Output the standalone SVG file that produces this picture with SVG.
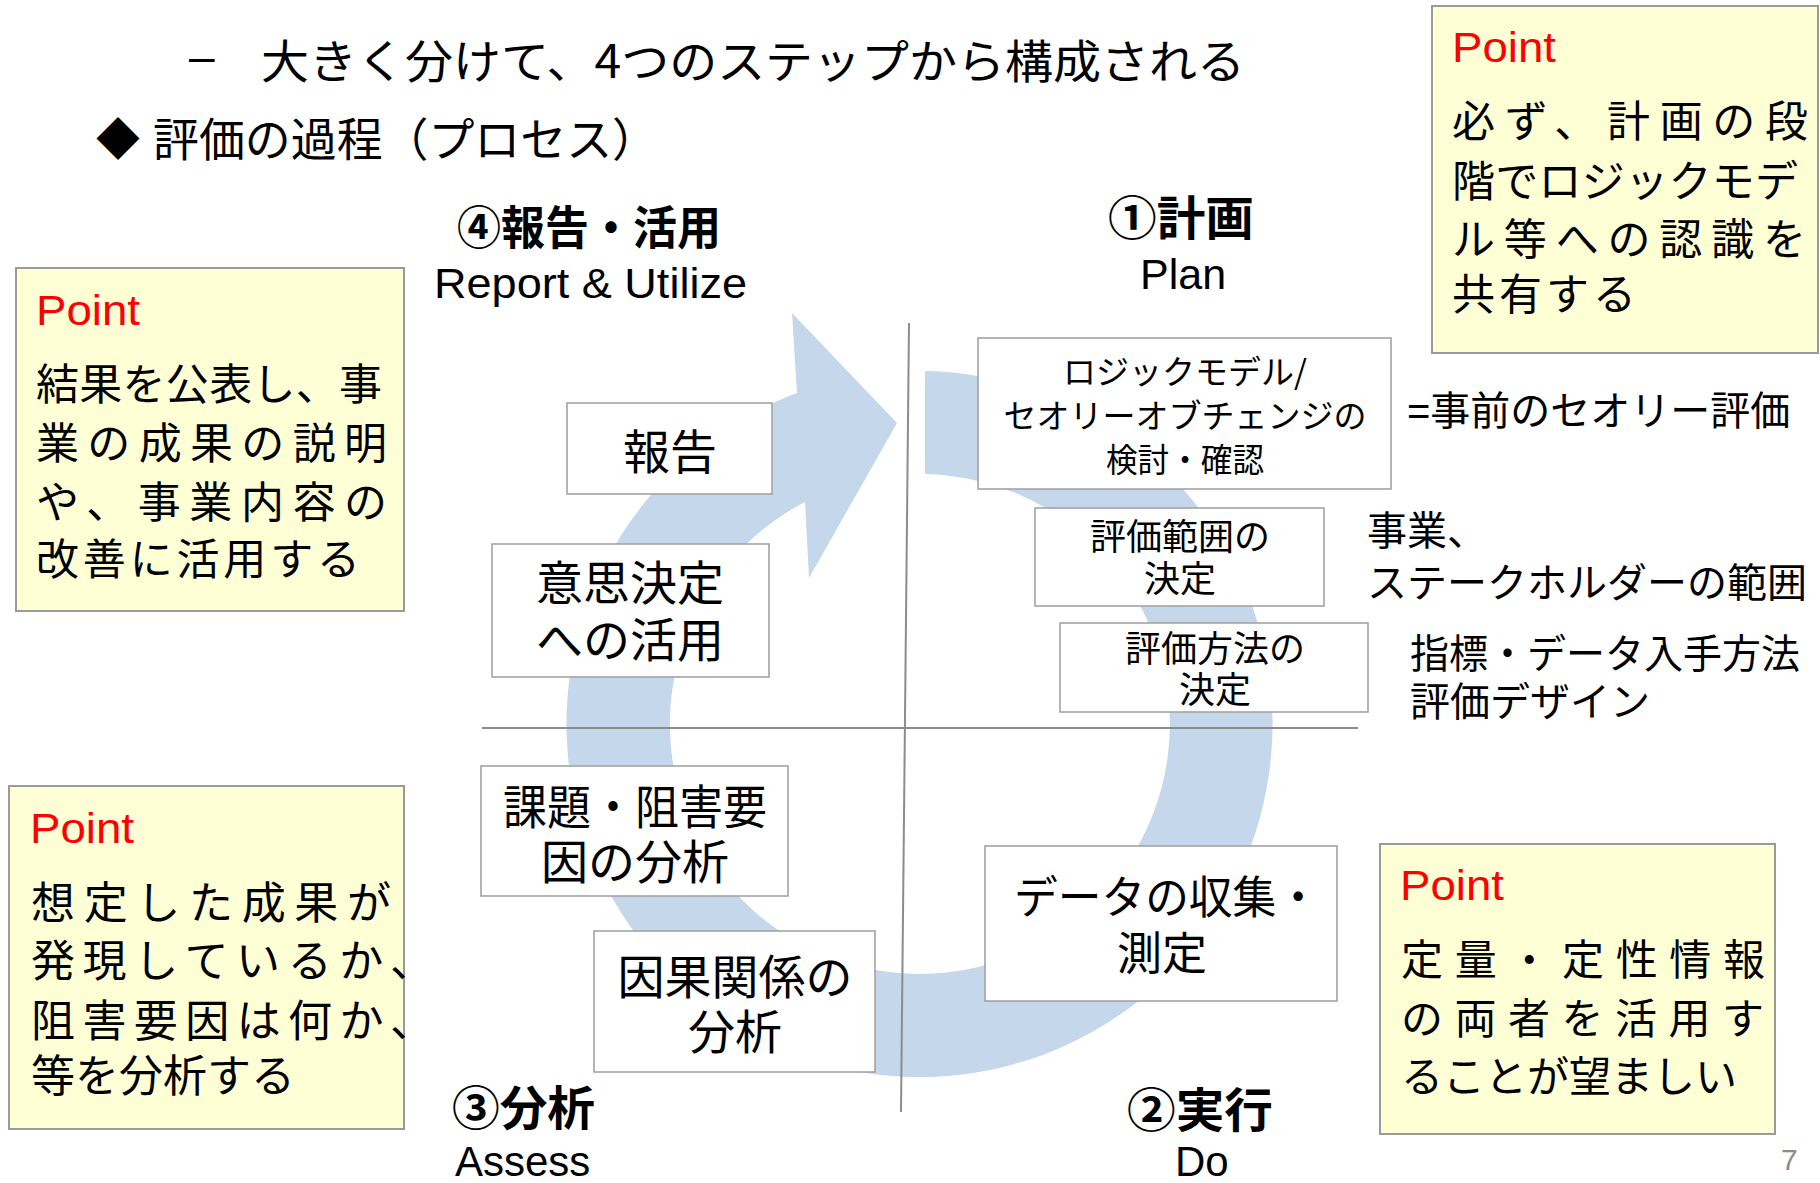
<svg xmlns="http://www.w3.org/2000/svg" width="1820" height="1183" viewBox="0 0 1820 1183">
<style>
text{font-family:'Liberation Sans','Noto Sans CJK JP',sans-serif;fill:#000}
.jp{font-family:'Noto Sans CJK JP','Noto Sans CJK SC',sans-serif}
.hd{font-weight:700}
.box{fill:#fff;stroke:#a3a3a3;stroke-width:1.6}
.pt{fill:#ffffd6;stroke:#9a9a9a;stroke-width:2}
.red{fill:#ff0000}
.div{stroke:#8c8c8c;stroke-width:2;fill:none}
.ring{fill:#c4d7eb}
</style>
<rect width="1820" height="1183" fill="#fff"/>

<g id="title">
<text x="189" y="72" font-size="46">–</text>
<text class="jp" x="261" y="78" font-size="46" textLength="984" lengthAdjust="spacingAndGlyphs">大きく分けて、4つのステップから構成される</text>
<text class="jp" x="96" y="155" font-size="44">◆</text>
<text class="jp" x="153" y="156" font-size="46" textLength="505" lengthAdjust="spacingAndGlyphs">評価の過程（プロセス）</text>
</g>

<g id="connectors">
<path id="cycle-arrow" class="ring" d="M925,371.1 A353,353 0 1 1 797,393 L792,313 L897,423 L809,578 L805,502 A250,250 0 1 0 925,474.1 Z"/>
<line class="div" x1="909" y1="323" x2="901" y2="1112"/>
<line class="div" x1="482" y1="728" x2="1358" y2="728"/>
</g>

<g id="phase-report">
<text class="jp hd" x="457" y="244" font-size="46" textLength="264" lengthAdjust="spacingAndGlyphs">④報告・活用</text>
<text x="434" y="298" font-size="43" textLength="313" lengthAdjust="spacingAndGlyphs">Report &amp; Utilize</text>
</g>
<g id="phase-plan">
<text class="jp hd" x="1108" y="235" font-size="47" textLength="146" lengthAdjust="spacingAndGlyphs">①計画</text>
<text x="1140" y="289" font-size="43">Plan</text>
</g>
<g id="phase-assess">
<text class="jp hd" x="452" y="1125" font-size="47" textLength="143" lengthAdjust="spacingAndGlyphs">③分析</text>
<text x="455" y="1176" font-size="42">Assess</text>
</g>
<g id="phase-do">
<text class="jp hd" x="1127" y="1127" font-size="47" textLength="146" lengthAdjust="spacingAndGlyphs">②実行</text>
<text x="1175" y="1176" font-size="42">Do</text>
</g>

<g id="node-report">
<rect class="box" x="567" y="403" width="205" height="91"/>
<text class="jp" x="670" y="469" font-size="47" text-anchor="middle">報告</text>
</g>
<g id="node-decision">
<rect class="box" x="492" y="544" width="277" height="133"/>
<text class="jp" x="630" y="600" font-size="47" text-anchor="middle">意思決定</text>
<text class="jp" x="630" y="657" font-size="47" text-anchor="middle">への活用</text>
</g>
<g id="node-logic">
<rect class="box" x="978" y="338" width="413" height="151"/>
<text class="jp" x="1185" y="384" font-size="33" text-anchor="middle">ロジックモデル/</text>
<text class="jp" x="1185" y="428" font-size="33" text-anchor="middle">セオリーオブチェンジの</text>
<text class="jp" x="1185" y="472" font-size="33" text-anchor="middle" textLength="158" lengthAdjust="spacingAndGlyphs">検討・確認</text>
</g>
<g id="node-scope">
<rect class="box" x="1035" y="508" width="289" height="98"/>
<text class="jp" x="1180" y="550" font-size="36" text-anchor="middle">評価範囲の</text>
<text class="jp" x="1180" y="592" font-size="36" text-anchor="middle">決定</text>
</g>
<g id="node-method">
<rect class="box" x="1060" y="623" width="308" height="89"/>
<text class="jp" x="1215" y="662" font-size="36" text-anchor="middle">評価方法の</text>
<text class="jp" x="1215" y="703" font-size="36" text-anchor="middle">決定</text>
</g>
<g id="node-issues">
<rect class="box" x="481" y="766" width="307" height="130"/>
<text class="jp" x="635" y="824" font-size="47" text-anchor="middle" textLength="264" lengthAdjust="spacingAndGlyphs">課題・阻害要</text>
<text class="jp" x="635" y="879" font-size="47" text-anchor="middle">因の分析</text>
</g>
<g id="node-causal">
<rect class="box" x="594" y="931" width="281" height="141"/>
<text class="jp" x="735" y="994" font-size="47" text-anchor="middle">因果関係の</text>
<text class="jp" x="735" y="1049" font-size="47" text-anchor="middle">分析</text>
</g>
<g id="node-data">
<rect class="box" x="985" y="846" width="352" height="155"/>
<text class="jp" x="1014" y="914" font-size="45" textLength="306" lengthAdjust="spacingAndGlyphs">データの収集・</text>
<text class="jp" x="1162" y="970" font-size="45" text-anchor="middle">測定</text>
</g>

<g id="notes-plan">
<text x="1407" y="425" font-size="40">=事前のセオリー評価</text>
<text x="1367" y="545" font-size="40">事業、</text>
<text x="1367" y="597" font-size="40" textLength="440" lengthAdjust="spacingAndGlyphs">ステークホルダーの範囲</text>
<text x="1410" y="668" font-size="40" textLength="390" lengthAdjust="spacingAndGlyphs">指標・データ入手方法</text>
<text x="1410" y="716" font-size="40">評価デザイン</text>
</g>

<g id="point-plan">
<rect class="pt" x="1432" y="6" width="386" height="347"/>
<text class="red" x="1452" y="62" font-size="42" textLength="104" lengthAdjust="spacingAndGlyphs">Point</text>
<text class="jp" x="1452" y="137" font-size="43" textLength="356" lengthAdjust="spacing">必ず、計画の段</text>
<text class="jp" x="1452" y="197" font-size="43" textLength="346" lengthAdjust="spacing">階でロジックモデ</text>
<text class="jp" x="1452" y="255" font-size="43" textLength="354" lengthAdjust="spacing">ル等への認識を</text>
<text class="jp" x="1452" y="310" font-size="43" textLength="184" lengthAdjust="spacing">共有する</text>
</g>

<g id="point-report">
<rect class="pt" x="16" y="268" width="388" height="343"/>
<text class="red" x="36" y="325" font-size="42" textLength="104" lengthAdjust="spacingAndGlyphs">Point</text>
<text class="jp" x="36" y="400" font-size="43" textLength="346" lengthAdjust="spacing">結果を公表し、事</text>
<text class="jp" x="36" y="459" font-size="43" textLength="351" lengthAdjust="spacing">業の成果の説明</text>
<text class="jp" x="36" y="518" font-size="43" textLength="351" lengthAdjust="spacing">や、事業内容の</text>
<text class="jp" x="36" y="575" font-size="43" textLength="324" lengthAdjust="spacing">改善に活用する</text>
</g>

<g id="point-assess">
<rect class="pt" x="9" y="786" width="395" height="343"/>
<text class="red" x="30" y="843" font-size="42" textLength="104" lengthAdjust="spacingAndGlyphs">Point</text>
<text class="jp" x="31" y="919" font-size="44" textLength="360" lengthAdjust="spacing">想定した成果が</text>
<text class="jp" x="31" y="977" font-size="44" textLength="403" lengthAdjust="spacing">発現しているか、</text>
<text class="jp" x="31" y="1037" font-size="44" textLength="403" lengthAdjust="spacing">阻害要因は何か、</text>
<text class="jp" x="31" y="1092" font-size="44">等を分析する</text>
</g>

<g id="point-do">
<rect class="pt" x="1380" y="844" width="395" height="290"/>
<text class="red" x="1400" y="900" font-size="42" textLength="104" lengthAdjust="spacingAndGlyphs">Point</text>
<text class="jp" x="1401" y="975" font-size="42" textLength="364" lengthAdjust="spacing">定量・定性情報</text>
<text class="jp" x="1401" y="1034" font-size="42" textLength="363" lengthAdjust="spacing">の両者を活用す</text>
<text class="jp" x="1401" y="1092" font-size="42" textLength="336" lengthAdjust="spacing">ることが望ましい</text>
</g>

<text x="1781" y="1170" font-size="30" style="fill:#8c8c8c">7</text>
</svg>
